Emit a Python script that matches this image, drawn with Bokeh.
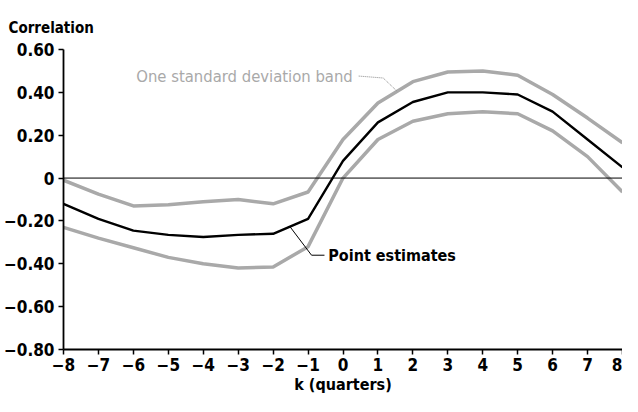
import numpy as np
from bokeh.plotting import figure
from bokeh.models import Range1d, FixedTicker, Span, Label
from bokeh.embed import file_html
from bokeh.resources import INLINE

# ---- data ----
k = list(range(-8, 9))
point_est = [-0.12, -0.19, -0.245, -0.265, -0.275, -0.265, -0.26, -0.19, 0.08,
             0.26, 0.355, 0.40, 0.40, 0.39, 0.31, 0.18, 0.05]
band_upper = [-0.01, -0.075, -0.13, -0.125, -0.11, -0.10, -0.12, -0.065, 0.18,
              0.35, 0.45, 0.495, 0.50, 0.48, 0.39, 0.28, 0.165]
band_lower = [-0.23, -0.28, -0.325, -0.37, -0.40, -0.42, -0.415, -0.32, 0.0,
              0.18, 0.265, 0.30, 0.31, 0.30, 0.22, 0.10, -0.065]

x_ticks = list(range(-8, 9))
x_tick_labels = [("−" + str(-t)) if t < 0 else str(t) for t in x_ticks]
y_ticks = [-0.8, -0.6, -0.4, -0.2, 0, 0.2, 0.4, 0.6]
y_tick_labels = ["−0.80", "−0.60", "−0.40", "−0.20", "0", "0.20", "0.40", "0.60"]

title_text = "Correlation"
x_title = "k (quarters)"
band_text = "One standard deviation band"
point_text = "Point estimates"

FONT = "'DejaVu Sans Condensed', 'Roboto Condensed', Roboto, sans-serif"
GRAY = "#a9a9a9"

p = figure(width=622, height=396,
           x_range=Range1d(-8, 8), y_range=Range1d(-0.8, 0.6),
           output_backend="svg", toolbar_location=None,
           min_border_left=55, min_border_right=0,
           min_border_top=49, min_border_bottom=47)
p.grid.visible = False
p.outline_line_color = None
p.background_fill_color = "white"
p.border_fill_color = "white"

# title
p.title.text = title_text
p.title.text_font = FONT
p.title.text_font_size = "15px"
p.title.text_font_style = "bold"
p.title.text_color = "black"
p.title.align = "left"
p.title.vertical_align = "top"
p.title.offset = -55
p.title.standoff = 21

# axes
p.xaxis.ticker = FixedTicker(ticks=x_ticks)
p.xaxis.major_label_overrides = {t: l for t, l in zip(x_ticks, x_tick_labels)}
p.yaxis.ticker = FixedTicker(ticks=y_ticks)
p.yaxis.major_label_overrides = {t: l for t, l in zip(y_ticks, y_tick_labels)}
for ax in (p.xaxis[0], p.yaxis[0]):
    ax.axis_line_color = "black"
    ax.axis_line_width = 1.8
    ax.major_tick_line_color = "black"
    ax.major_tick_line_width = 1.5
    ax.major_tick_out = 5
    ax.major_tick_in = 0
    ax.minor_tick_line_color = None
    ax.major_label_text_font = FONT
    ax.major_label_text_font_size = "17px"
    ax.major_label_text_font_style = "bold"
    ax.major_label_text_color = "black"
p.yaxis.major_label_standoff = 4
p.xaxis.major_label_standoff = 3
p.xaxis.axis_label = x_title
p.xaxis.axis_label_text_font = FONT
p.xaxis.axis_label_text_font_size = "16px"
p.xaxis.axis_label_text_font_style = "bold"
p.xaxis.axis_label_text_color = "black"
p.xaxis.axis_label_standoff = 1

# zero line
p.add_layout(Span(location=0, dimension="width", line_color="black", line_width=1))

# band and point estimates
p.line(k, band_upper, line_color=GRAY, line_width=3.5)
p.line(k, band_lower, line_color=GRAY, line_width=3.5)
p.line(k, point_est, line_color="black", line_width=2.4)

# band annotation
band_anchor_k = 1.55
band_anchor_y = float(np.interp(band_anchor_k, k, band_upper))
p.line([0.45, 1.15, band_anchor_k], [0.476, 0.467, band_anchor_y],
       line_color="#888888", line_width=1, line_dash="1 1")
p.add_layout(Label(x=0.28, y=0.476, text=band_text, text_font=FONT,
                   text_font_size="16.5px", text_color=GRAY,
                   text_align="right", text_baseline="middle"))

# point annotation
pt_anchor_k = -1.52
pt_anchor_y = float(np.interp(pt_anchor_k, k, point_est))
p.line([pt_anchor_k, -0.9, -0.53], [pt_anchor_y, -0.36, -0.36],
       line_color="black", line_width=1)
p.add_layout(Label(x=-0.42, y=-0.36, text=point_text, text_font=FONT,
                   text_font_size="16px", text_font_style="bold", text_color="black",
                   text_align="left", text_baseline="middle"))

open("out.html", "w").write(file_html(p, INLINE))
